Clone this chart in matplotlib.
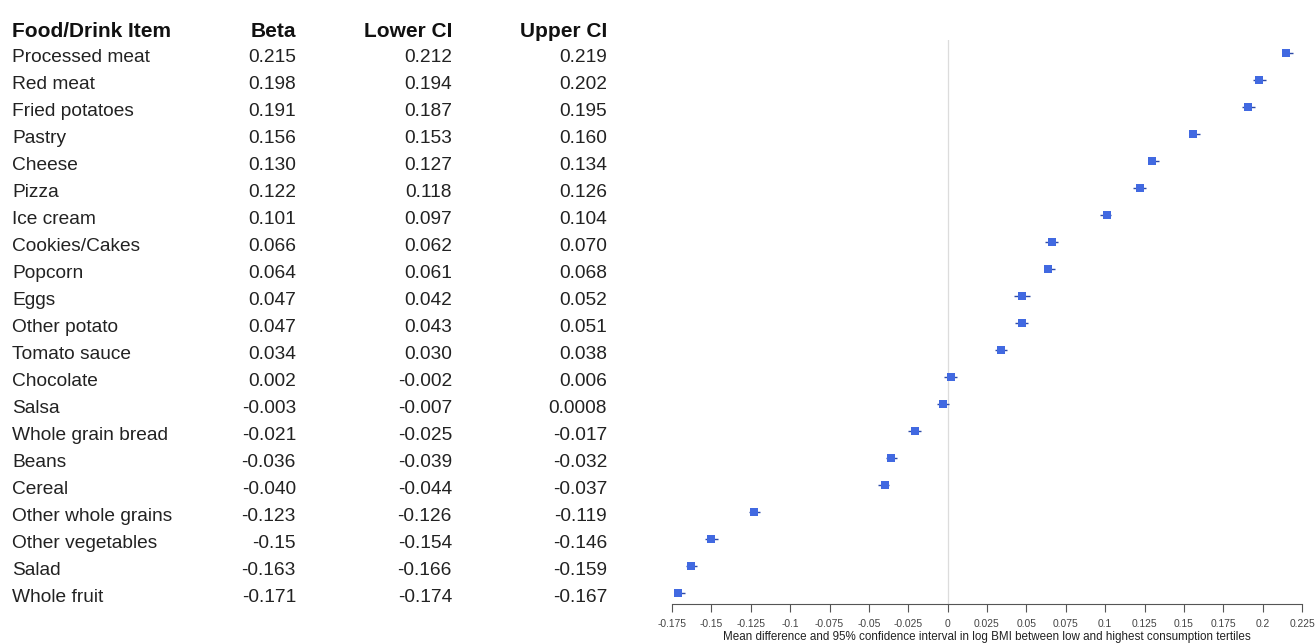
import matplotlib
matplotlib.use("Agg")
import matplotlib.pyplot as plt
import matplotlib.transforms as mtransforms

items = ["Processed meat", "Red meat", "Fried potatoes", "Pastry", "Cheese", "Pizza",
         "Ice cream", "Cookies/Cakes", "Popcorn", "Eggs", "Other potato", "Tomato sauce",
         "Chocolate", "Salsa", "Whole grain bread", "Beans", "Cereal", "Other whole grains",
         "Other vegetables", "Salad", "Whole fruit"]
beta_txt = ["0.215", "0.198", "0.191", "0.156", "0.130", "0.122", "0.101", "0.066", "0.064",
            "0.047", "0.047", "0.034", "0.002", "-0.003", "-0.021", "-0.036", "-0.040",
            "-0.123", "-0.15", "-0.163", "-0.171"]
lower_txt = ["0.212", "0.194", "0.187", "0.153", "0.127", "0.118", "0.097", "0.062", "0.061",
             "0.042", "0.043", "0.030", "-0.002", "-0.007", "-0.025", "-0.039", "-0.044",
             "-0.126", "-0.154", "-0.166", "-0.174"]
upper_txt = ["0.219", "0.202", "0.195", "0.160", "0.134", "0.126", "0.104", "0.070", "0.068",
             "0.052", "0.051", "0.038", "0.006", "0.0008", "-0.017", "-0.032", "-0.037",
             "-0.119", "-0.146", "-0.159", "-0.167"]
headers = ["Food/Drink Item", "Beta", "Lower CI", "Upper CI"]
xticks = [-0.175, -0.15, -0.125, -0.1, -0.075, -0.05, -0.025, 0, 0.025, 0.05, 0.075,
          0.1, 0.125, 0.15, 0.175, 0.2, 0.225]
xtick_labels = ["-0.175", "-0.15", "-0.125", "-0.1", "-0.075", "-0.05", "-0.025", "0",
                "0.025", "0.05", "0.075", "0.1", "0.125", "0.15", "0.175", "0.2", "0.225"]
xlabel = "Mean difference and 95% confidence interval in log BMI between low and highest consumption tertiles"

beta = [float(v) for v in beta_txt]
lower = [float(v) for v in lower_txt]
upper = [float(v) for v in upper_txt]
n = len(items)
ypos = list(range(n))

plt.rcParams['font.family'] = ['Liberation Sans', 'DejaVu Sans']
W, H = 1315, 643
fig = plt.figure(figsize=(W / 100, H / 100), dpi=100)
ax_l, ax_r, ax_top, ax_bot = 672, 1302, 40, 604
ax = fig.add_axes([ax_l / W, (H - ax_bot) / H, (ax_r - ax_l) / W, (ax_bot - ax_top) / H])

ax.axvline(0, color="#dcdcdc", lw=0.9, zorder=0)
err = [[b - l for b, l in zip(beta, lower)], [u - b for b, u in zip(beta, upper)]]
ax.errorbar(beta, ypos, xerr=err, fmt="s", color="#4169e1", ecolor="#2d4aa8",
            elinewidth=1.0, capsize=0, markersize=6.4, markeredgewidth=0, zorder=3)

ax.set_xlim(-0.175, 0.225)
ax.set_ylim(20.42, -0.49)
ax.set_xticks(xticks)
ax.set_xticklabels(xtick_labels, fontsize=7.4, color="#444444")
ax.tick_params(axis="x", direction="out", length=6, width=0.8, color="#555555", pad=5)
ax.set_yticks([])
for s in ["top", "right", "left"]:
    ax.spines[s].set_visible(False)
ax.spines["bottom"].set_color("#555555")
ax.spines["bottom"].set_linewidth(0.8)
ax.set_xlabel(xlabel, fontsize=8.4, color="#222222", labelpad=1.2)

trans = mtransforms.blended_transform_factory(fig.transFigure, ax.transData)
col_x = [12 / W, 296 / W, 452 / W, 607 / W]
col_ha = ["left", "right", "right", "right"]
fs = 13.8
for cx, ha, h in zip(col_x, col_ha, headers):
    ax.text(cx, -0.88, h, transform=trans, ha=ha, va="center_baseline", fontsize=15,
            fontweight="bold", color="#111111", clip_on=False)
for i in range(n):
    for cx, ha, t in zip(col_x, col_ha, [items[i], beta_txt[i], lower_txt[i], upper_txt[i]]):
        ax.text(cx, ypos[i] + 0.1, t, transform=trans, ha=ha, va="center_baseline", fontsize=fs,
                color="#222222", clip_on=False)

fig.savefig("out.png", dpi=100, facecolor="white")
